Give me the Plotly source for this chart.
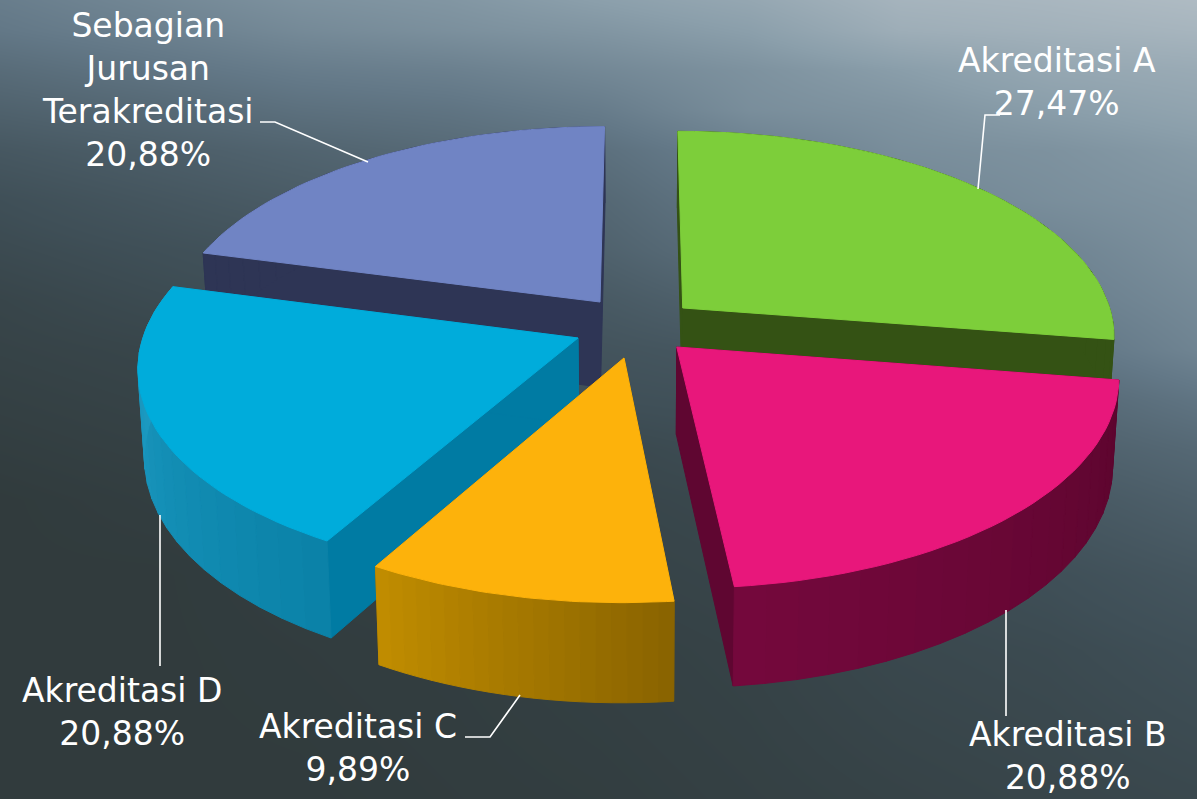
import math
import plotly.graph_objects as go

# ---- data ----
labels = ["Akreditasi A", "Akreditasi B", "Akreditasi C", "Akreditasi D", "Sebagian<br>Jurusan<br>Terakreditasi"]
values = [27.47, 20.88, 9.89, 20.88, 20.88]
value_text = ["27,47%", "20,88%", "9,89%", "20,88%", "20,88%"]

# ---- styles ----
top_colors = ["#7dce3a", "#e8177b", "#fdb20b", "#00acdb", "#7084c4"]
wall_colors = ["#345214", "#5f0631", "#8a6400", "#007ba3", "#2e3555"]
side_start = ["#345214", "#5c052e", "#8a6400", "#0b82a8", "#2e3555"]
side_end = ["#345214", "#74083c", "#c08c00", "#1f9fc7", "#2e3555"]
# slice displacement on the pie plane (x, depth), in radii
offset_x = [0.100, 0.084, -0.0363, -0.1425, -0.094]
offset_y = [0.109, -0.082, -0.134, -0.0388, 0.139]
draw_order = [4, 0, 3, 1, 2]

label_x = [1057, 1068, 358, 122, 148]
label_y = [82, 756, 748, 712, 90]
leaders = [
    ([1000, 985, 978], [115, 115, 189]),
    ([1006, 1006], [610, 716]),
    ([465, 490, 520], [737, 737, 695]),
    ([160, 160], [515, 666]),
    ([260, 275, 368], [122, 122, 162]),
]

# background luminance
bg_x = [0, 150, 300, 450, 600, 750, 900, 1050, 1197]
bg_y = [0, 30, 70, 110, 150, 200, 250, 300, 350, 400, 450, 500, 575, 650, 799]
bg_z = [
    [105, 115, 125, 130, 140, 150, 168, 172, 178],
    [100, 108, 118, 124, 130, 140, 160, 165, 170],
    [88, 96, 104, 108, 116, 126, 138, 150, 155],
    [78, 84, 92, 96, 104, 122, 128, 138, 146],
    [68, 74, 80, 86, 92, 108, 122, 126, 135],
    [60, 66, 72, 78, 84, 100, 114, 122, 128],
    [56, 60, 64, 70, 78, 92, 108, 112, 124],
    [52, 56, 60, 64, 70, 80, 98, 106, 118],
    [50, 52, 56, 60, 64, 68, 82, 96, 112],
    [48, 50, 52, 56, 60, 62, 74, 84, 96],
    [46, 48, 50, 52, 54, 58, 66, 76, 84],
    [44, 46, 48, 50, 52, 54, 60, 68, 76],
    [44, 44, 46, 48, 50, 52, 56, 60, 66],
    [44, 44, 45, 46, 48, 50, 54, 56, 60],
    [44, 44, 44, 45, 46, 48, 50, 52, 54],
]

# ---- projection of the tilted pie ----
CX, CY, U, V, P = 640, 330, 433, 205, 0.13


def project(X, Y):
    s = 1 / (1 + P * Y)
    return CX + U * X * s, CY - V * Y * s


def drop(sx, sy):
    t = 70 + 0.05 * sy
    return CX + (sx - CX) * 0.987, sy + t


def mix(c1, c2, f):
    a = [int(c1[i:i + 2], 16) for i in (1, 3, 5)]
    b = [int(c2[i:i + 2], 16) for i in (1, 3, 5)]
    return "rgb(%d,%d,%d)" % tuple(round(a[i] + (b[i] - a[i]) * f) for i in range(3))


fig = go.Figure()
fig.add_trace(go.Heatmap(
    x=bg_x, y=bg_y, z=bg_z, zmin=40, zmax=180, zsmooth="best", showscale=False, hoverinfo="skip",
    colorscale=[[0, "#2d3636"], [0.14, "#3f4f57"], [0.43, "#637887"], [0.71, "#8b9fab"], [1, "#b0bcc4"]],
))


def poly(xs, ys, color):
    fig.add_trace(go.Scatter(x=list(xs) + [xs[0]], y=list(ys) + [ys[0]], mode="lines", fill="toself",
                             fillcolor=color, line=dict(color=color, width=1), hoverinfo="skip", showlegend=False))


total = sum(values)
starts = []
acc = 0
for v in values:
    starts.append(acc / total * 2 * math.pi)
    acc += v

BAND = 2
for i in draw_order:
    a0 = starts[i]
    a1 = a0 + values[i] / total * 2 * math.pi
    n = 40
    angles = [a0 + (a1 - a0) * k / n for k in range(n + 1)]
    rim = [project(offset_x[i] + math.sin(a), offset_y[i] + math.cos(a)) for a in angles]
    apex = project(offset_x[i], offset_y[i])
    apex_low = drop(*apex)
    low = [drop(*p) for p in rim]
    # cut walls
    for end, end_low in ((rim[0], low[0]), (rim[-1], low[-1])):
        poly([apex[0], end[0], end_low[0], apex_low[0]], [apex[1], end[1], end_low[1], apex_low[1]], wall_colors[i])
    # outer wall, in shaded bands
    for b in range(0, n, BAND):
        col = mix(side_start[i], side_end[i], b / (n - BAND))
        seg_top = rim[b:b + BAND + 1]
        seg_low = low[b:b + BAND + 1][::-1]
        poly([p[0] for p in seg_top + seg_low], [p[1] for p in seg_top + seg_low], col)
    # top
    poly([apex[0]] + [p[0] for p in rim], [apex[1]] + [p[1] for p in rim], top_colors[i])

for lx, ly in leaders:
    fig.add_trace(go.Scatter(x=lx, y=ly, mode="lines", line=dict(color="white", width=1.6),
                             hoverinfo="skip", showlegend=False))

for i in range(len(labels)):
    fig.add_annotation(x=label_x[i], y=label_y[i], text=labels[i] + "<br>" + value_text[i], showarrow=False,
                       xanchor="center", yanchor="middle", align="center",
                       font=dict(family="DejaVu Sans", size=33, color="white"))

fig.update_layout(
    width=1197, height=799, margin=dict(l=0, r=0, t=0, b=0), showlegend=False,
    paper_bgcolor="#2d3636", plot_bgcolor="#2d3636",
    xaxis=dict(range=[0, 1197], visible=False, fixedrange=True),
    yaxis=dict(range=[799, 0], visible=False, fixedrange=True),
)
fig.write_html("out.html", config={"displayModeBar": False},
               post_script="document.body.style.margin='0';document.body.style.overflow='hidden';")
